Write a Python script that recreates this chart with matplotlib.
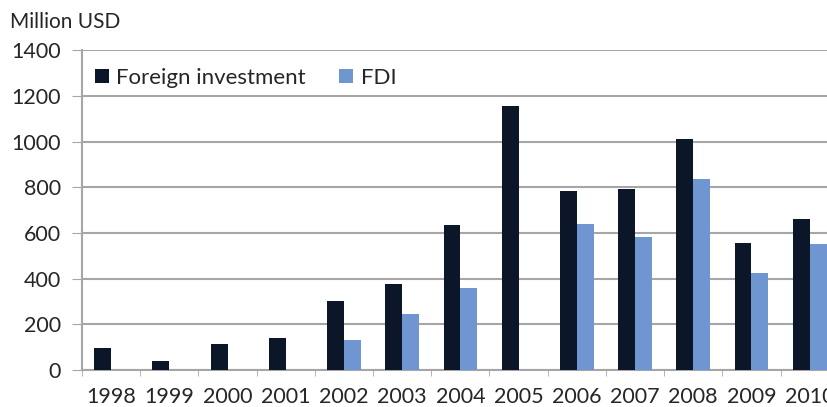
import numpy as np
import matplotlib.pyplot as plt

# Annual inflows, million USD
years = ['1998', '1999', '2000', '2001', '2002', '2003', '2004',
         '2005', '2006', '2007', '2008', '2009', '2010']
foreign_investment = [95, 39, 114, 141, 302, 376, 634, 1155, 784, 790, 1010, 554, 659]
fdi = [0, 0, 0, 0, 131, 245, 360, 0, 639, 583, 837, 423, 551]

dark = '#0b1628'
light = '#6f96d0'
grid_grey = '#a6a6a6'
text_col = '#262626'

plt.rcParams['font.family'] = ['Lato', 'DejaVu Sans']

fig = plt.figure(figsize=(8.27, 4.07), dpi=100)
# plot area runs a little past the right edge of the figure
ax = fig.add_axes([0.0992, 0.0909, 0.915, 0.786])

x = np.arange(len(years))
w = 0.29
ax.bar(x - w / 2, foreign_investment, w, color=dark, label='Foreign investment', zorder=3)
ax.bar(x + w / 2, fdi, w, color=light, label='FDI', zorder=3)

ax.set_xlim(-0.5, len(years) - 0.5)
ax.set_ylim(0, 1400)
ax.set_yticks(range(0, 1401, 200))
ax.yaxis.grid(True, color=grid_grey, lw=1.5, zorder=0)

ax.set_xticks(x)
ax.set_xticklabels(years)
ax.set_xticks(np.arange(len(years) + 1) - 0.5, minor=True)
ax.tick_params(axis='x', which='major', length=0, pad=12, labelsize=15.5, colors=text_col)
ax.tick_params(axis='x', which='minor', length=4, color=grid_grey)
ax.tick_params(axis='y', length=7, color=grid_grey, pad=8, labelsize=15.5, labelcolor=text_col)

for side in ['top', 'right']:
    ax.spines[side].set_visible(False)
for side in ['left', 'bottom']:
    ax.spines[side].set_color(grid_grey)
    ax.spines[side].set_linewidth(1.5)

fig.text(0.012, 0.945, 'Million USD', fontsize=15, color=text_col, va='center')

ax.legend(loc='upper left', bbox_to_anchor=(0.0, 0.985), ncol=2, frameon=False,
          fontsize=16, handlelength=0.6, handleheight=0.6, handletextpad=0.35,
          columnspacing=1.5, borderaxespad=0.2, labelcolor=text_col)

fig.savefig('out.png', dpi=100)
